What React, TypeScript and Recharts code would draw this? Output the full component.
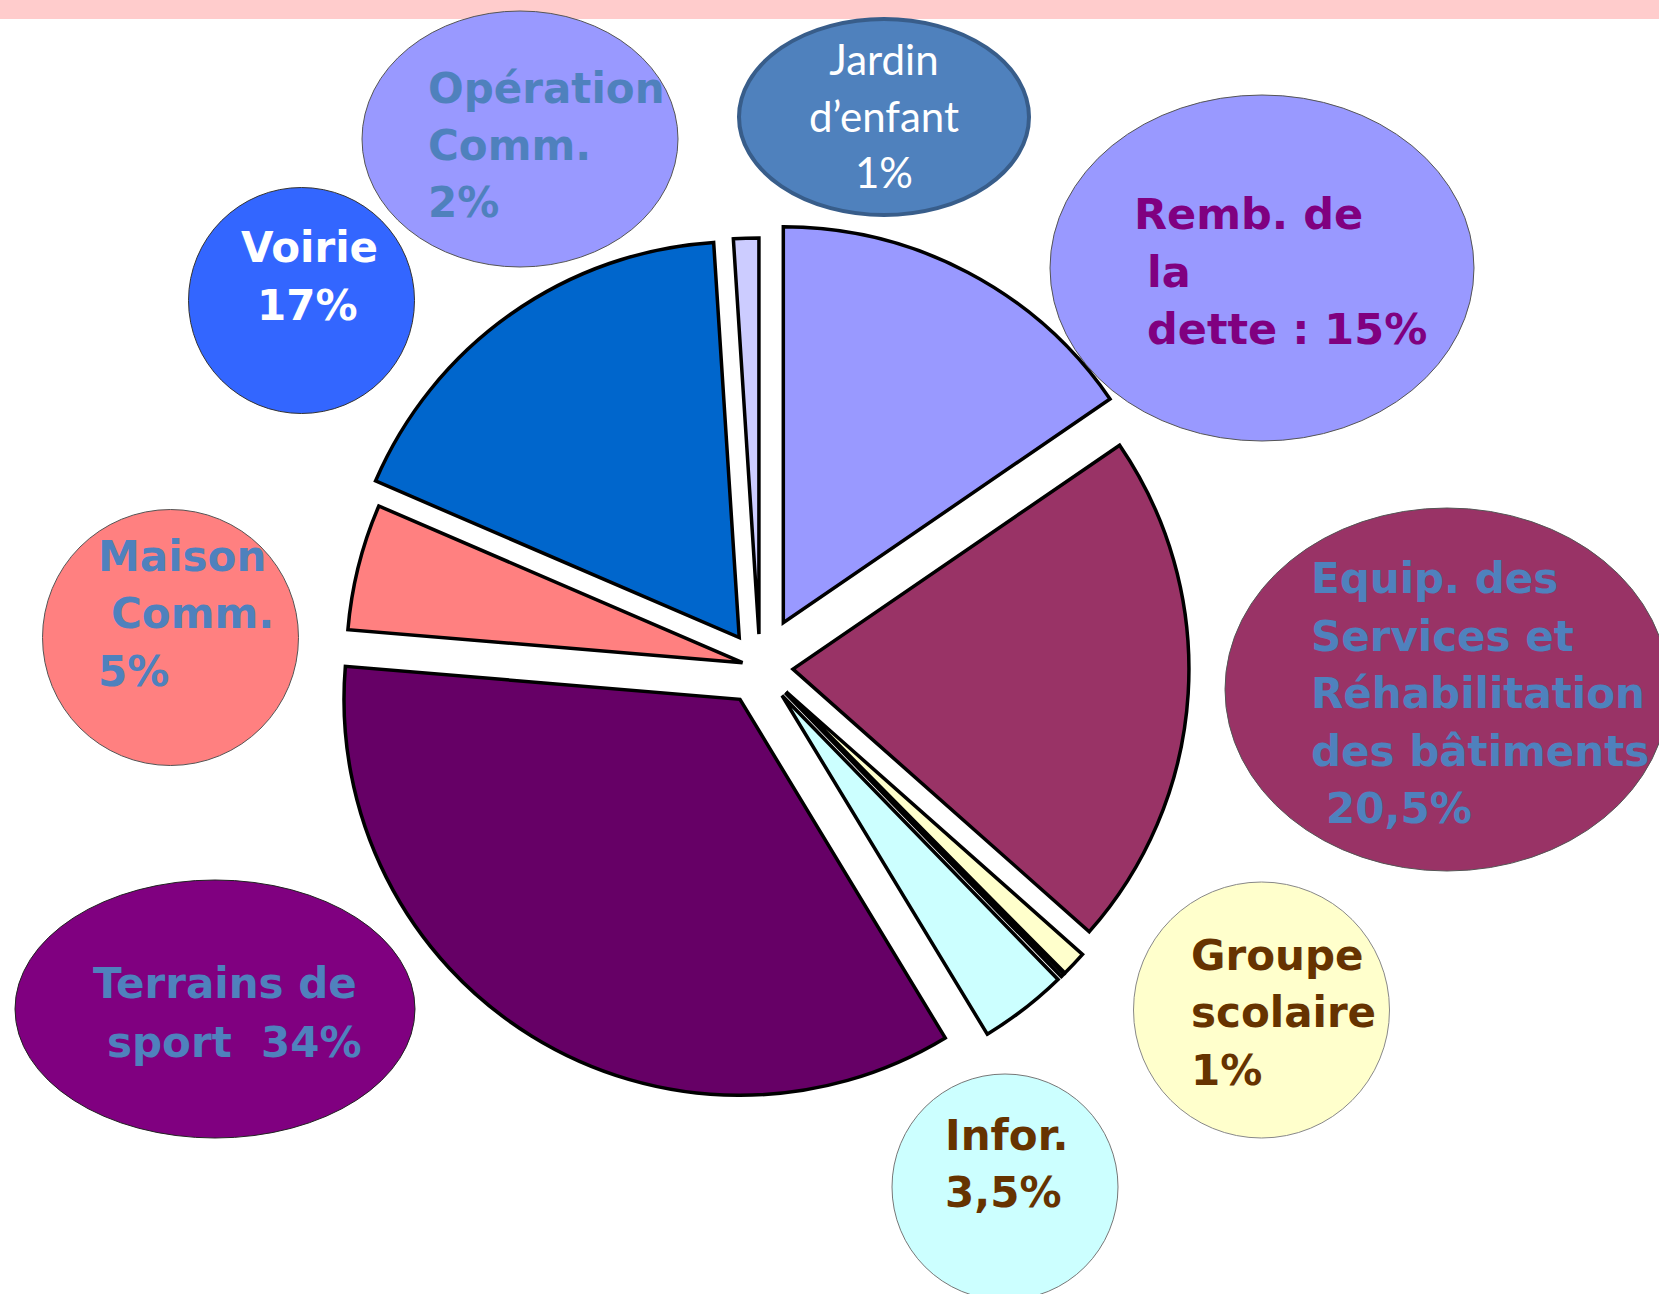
import React from "react";
import { PieChart, Pie, Cell } from "recharts";

// slices, clockwise from 12 o'clock
const SLICE_NAMES = [
  "Remb. de la dette",
  "Equip. des Services et Réhabilitation des bâtiments",
  "Groupe scolaire",
  "Autre",
  "Infor.",
  "Terrains de sport",
  "Maison Comm.",
  "Voirie",
  "Opération Comm.",
];
const SLICE_VALUES = [15, 20.5, 1, 0.15, 3.5, 34, 5, 17, 1];

// bubble labels
const LABEL_LINES = [
  ["Opération", "Comm.", "2%"],
  ["Jardin", "d’enfant", "1%"],
  ["Remb. de", "la", "dette : 15%"],
  ["Voirie", "17%"],
  ["Maison", "Comm.", "5%"],
  ["Equip. des", "Services et", "Réhabilitation", "des bâtiments", "20,5%"],
  ["Terrains de", "sport  34%"],
  ["Groupe", "scolaire", "1%"],
  ["Infor.", "3,5%"],
];

const SLICE_COLORS = ["#9999FF", "#993366", "#FFFFCC", "#333333", "#CCFFFF", "#660066", "#FF8080", "#0066CC", "#CCCCFF"];
const SLICE_EXPLODE = [50, 33, 36, 36, 36, 38, 18, 36, 33];

const CX = 760;
const CY = 667;
const R = 396;

type Bubble = {
  cx: number;
  cy: number;
  rx: number;
  ry: number;
  fill: string;
  stroke: string;
  strokeWidth: number;
  color: string;
  font: string;
  size: number;
  weight: number;
  anchor: "start" | "middle";
  xs: number[];
  y0: number;
  dy: number;
};

const BUBBLES: Bubble[] = [
  { cx: 520, cy: 139, rx: 158, ry: 128, fill: "#9999FF", stroke: "#555", strokeWidth: 1, color: "#4F81BD", font: "DejaVu Sans", size: 42, weight: 700, anchor: "start", xs: [428, 428, 428], y0: 103, dy: 57 },
  { cx: 884, cy: 117, rx: 145, ry: 98, fill: "#4F81BD", stroke: "#385D8A", strokeWidth: 4, color: "#FFFFFF", font: "Lato", size: 42, weight: 400, anchor: "middle", xs: [884, 884, 884], y0: 75, dy: 56.5 },
  { cx: 1262, cy: 268, rx: 212, ry: 173, fill: "#9999FF", stroke: "#555", strokeWidth: 1, color: "#800080", font: "DejaVu Sans", size: 43, weight: 700, anchor: "start", xs: [1134, 1147, 1147], y0: 229, dy: 57.5 },
  { cx: 301.5, cy: 300.5, rx: 113, ry: 113, fill: "#3366FF", stroke: "#333", strokeWidth: 1, color: "#FFFFFF", font: "DejaVu Sans", size: 42, weight: 700, anchor: "start", xs: [241, 257], y0: 262, dy: 57.5 },
  { cx: 170.5, cy: 637.5, rx: 128, ry: 128, fill: "#FF8080", stroke: "#555", strokeWidth: 1, color: "#4F81BD", font: "DejaVu Sans", size: 42, weight: 700, anchor: "start", xs: [98, 111, 98], y0: 571, dy: 57.3 },
  { cx: 1447, cy: 689.5, rx: 222, ry: 181.5, fill: "#993366", stroke: "#555", strokeWidth: 1, color: "#4F81BD", font: "DejaVu Sans", size: 42, weight: 700, anchor: "start", xs: [1311, 1311, 1311, 1311, 1326], y0: 593, dy: 57.5 },
  { cx: 215, cy: 1009, rx: 200, ry: 129, fill: "#800080", stroke: "#222", strokeWidth: 1, color: "#4F81BD", font: "DejaVu Sans", size: 42, weight: 700, anchor: "start", xs: [93, 107], y0: 998, dy: 58.5 },
  { cx: 1261.5, cy: 1010, rx: 128, ry: 128, fill: "#FFFFCC", stroke: "#888", strokeWidth: 1, color: "#663300", font: "DejaVu Sans", size: 42, weight: 700, anchor: "start", xs: [1191, 1191, 1191], y0: 970, dy: 57.3 },
  { cx: 1005, cy: 1187, rx: 113, ry: 113, fill: "#CCFFFF", stroke: "#777", strokeWidth: 1, color: "#663300", font: "DejaVu Sans", size: 42, weight: 700, anchor: "start", xs: [945, 945], y0: 1150, dy: 57 },
];

const pieData = SLICE_NAMES.map((name, i) => ({ name, value: SLICE_VALUES[i] }));
const total = SLICE_VALUES.reduce((a, b) => a + b, 0);

// centre of each exploded slice, pushed out along its mid angle
const sliceCentres = SLICE_VALUES.map((v, i) => {
  const before = SLICE_VALUES.slice(0, i).reduce((a, b) => a + b, 0);
  const mid = ((before + v / 2) / total) * 2 * Math.PI;
  return {
    x: CX + SLICE_EXPLODE[i] * Math.sin(mid),
    y: CY - SLICE_EXPLODE[i] * Math.cos(mid),
  };
});

function Bubbles() {
  return (
    <svg width={1659} height={1294} style={{ position: "absolute", left: 0, top: 0 }}>
      {BUBBLES.map((b, i) => (
        <g key={i}>
          <ellipse cx={b.cx} cy={b.cy} rx={b.rx} ry={b.ry} fill={b.fill} stroke={b.stroke} strokeWidth={b.strokeWidth} />
          {LABEL_LINES[i].map((line, j) => (
            <text
              key={j}
              x={b.xs[j]}
              y={b.y0 + j * b.dy}
              fill={b.color}
              fontFamily={b.font}
              fontSize={b.size}
              fontWeight={b.weight}
              textAnchor={b.anchor}
              style={{ whiteSpace: "pre" }}
            >
              {line}
            </text>
          ))}
        </g>
      ))}
    </svg>
  );
}

export default function App() {
  return (
    <div style={{ position: "absolute", left: 0, top: 0, width: 1659, height: 1294, background: "#fff", overflow: "hidden" }}>
      <div style={{ position: "absolute", left: 0, top: 0, width: 1659, height: 19, background: "#FFCCCC" }} />
      <Bubbles />
      <div style={{ position: "absolute", left: 0, top: 0 }}>
        <PieChart width={1659} height={1294} margin={{ top: 0, right: 0, bottom: 0, left: 0 }}>
          {SLICE_NAMES.map((name, k) => (
            <Pie
              key={name}
              data={pieData}
              dataKey="value"
              nameKey="name"
              cx={sliceCentres[k].x}
              cy={sliceCentres[k].y}
              outerRadius={R}
              startAngle={90}
              endAngle={-270}
              isAnimationActive={false}
              label={false}
              labelLine={false}
            >
              {pieData.map((_, i) => (
                <Cell
                  key={i}
                  fill={i === k ? SLICE_COLORS[i] : "none"}
                  stroke={i === k ? "#000" : "none"}
                  strokeWidth={3.5}
                />
              ))}
            </Pie>
          ))}
        </PieChart>
      </div>
    </div>
  );
}
